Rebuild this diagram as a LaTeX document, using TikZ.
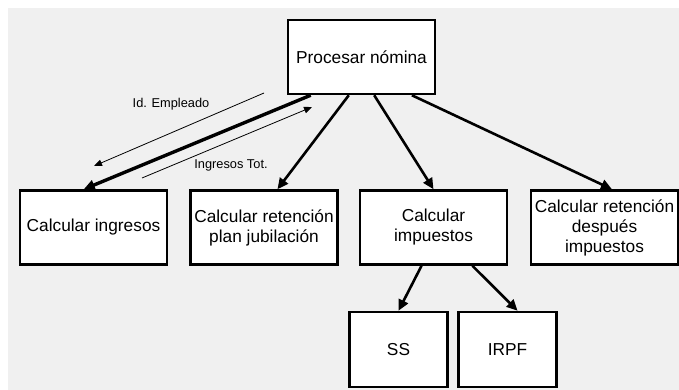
\documentclass[tikz,border=0pt]{standalone}
\usepackage{fontspec}
\setmainfont{Liberation Sans}
\usetikzlibrary{arrows.meta, positioning, calc}
\definecolor{bggray}{RGB}{240,240,240}

\begin{document}
\begin{tikzpicture}[x=1pt, y=-1pt,
    box/.style={draw, line width=2.5pt, fill=white, minimum width=147pt, minimum height=74pt,
      align=center, inner sep=1pt, font=\fontsize{17.3}{20}\selectfont},
    leaf/.style={box, minimum width=98pt, minimum height=75pt},
    link/.style={line width=2.6pt, -{Triangle[length=11pt,width=10pt]}},
    flow/.style={line width=0.8pt, -{Triangle[length=8pt,width=6.5pt]}},
    lbl/.style={font=\fontsize{12.8}{14}\selectfont}]
  \useasboundingbox (0,0) rectangle (679,390);
  \fill[bggray] (8,8) rectangle (679,390);

  \node[box] (proc) at (361.5,57) {Procesar nómina};
  \node[box] (ingr) at (93.5,227.5) {Calcular ingresos};
  \node[box] (plan) at (264,227.5) {Calcular retención\\plan jubilación};
  \node[box] (imp) at (433.5,227.5) {Calcular\\impuestos};
  \node[box] (desp) at (604.5,227.5) {Calcular retención\\después\\impuestos};
  \node[leaf] (ss) at (398.5,349.5) {SS};
  \node[leaf] (irpf) at (507.5,349.5) {IRPF};

  % llamadas desde el modulo principal
  \draw[link, line width=3.4pt] ($(proc.south west)!0.16!(proc.south east)$) -- ($(ingr.north west)!0.435!(ingr.north east)$);
  \draw[link] ($(proc.south west)!0.415!(proc.south east)$) -- ($(plan.north west)!0.59!(plan.north east)$);
  \draw[link] ($(proc.south west)!0.585!(proc.south east)$) -- ($(imp.north west)!0.5!(imp.north east)$);
  \draw[link] ($(proc.south west)!0.837!(proc.south east)$) -- ($(desp.north west)!0.55!(desp.north east)$);
  \draw[link] ($(imp.south west)!0.42!(imp.south east)$) -- ($(ss.north west)!0.5!(ss.north east)$);
  \draw[link] ($(imp.south west)!0.76!(imp.south east)$) -- ($(irpf.north west)!0.6!(irpf.north east)$);

  % datos que se pasan
  \coordinate (idfrom) at (264,93);
  \coordinate (idto) at (94,166);
  \coordinate (totfrom) at (142,178);
  \coordinate (totto) at (312,107);
  \draw[flow] (idfrom) -- (idto);
  \draw[flow] (totfrom) -- (totto);
  \node[lbl] (idlbl) at (171,104) {Id. Empleado};
  \node[lbl] (totlbl) at (231,165) {Ingresos Tot.};
\end{tikzpicture}
\end{document}
